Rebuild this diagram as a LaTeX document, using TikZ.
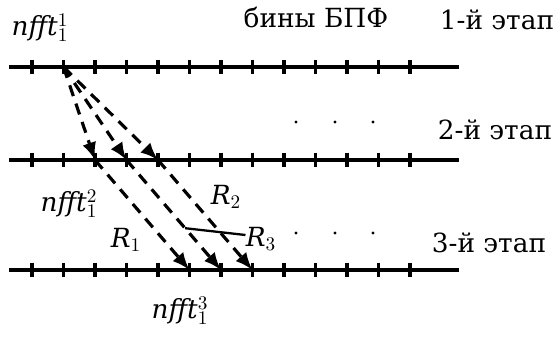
\documentclass[tikz,border=0pt]{standalone}
\usepackage{fontspec}
\setmainfont{DejaVu Serif}
\usetikzlibrary{arrows.meta}

\begin{document}
\begin{tikzpicture}[
    x=0.02cm, y=-0.02cm,
    axis/.style={line width=1.9pt},
    tick/.style={line width=2pt},
    jump/.style={-{Latex[length=10pt,width=8pt]}, line width=1.8pt, dash pattern=on 6.5pt off 4.5pt},
    lbl/.style={font=\fontsize{15}{17}\selectfont, inner sep=0pt},
    dotmark/.style={circle, fill, inner sep=0pt, minimum size=1.8pt}
]
    \useasboundingbox (0,0) rectangle (556,338);

    % Stage axes with ticks (bins)
    \foreach \row/\y/\w in {a/67/1.9pt, b/160/2.4pt, c/270/1.9pt} {
        \coordinate (\row-start) at (9,\y);
        \coordinate (\row-end) at (459,\y);
        \draw[axis, line width=\w] (\row-start) -- (\row-end);
        \foreach \k in {0,...,12} {
            \coordinate (\row-\k) at ({32+31.5*\k},\y);
            \draw[tick] ([yshift=0.15cm]\row-\k) -- ([yshift=-0.15cm]\row-\k);
        }
    }

    % Headings
    \node[lbl] (bins) at (316,17) {бины БПФ};
    \node[lbl] (stage1) at (497,20) {1-й этап};
    \node[lbl] (stage2) at (495,130) {2-й этап};
    \node[lbl] (stage3) at (489,243) {3-й этап};

    % Dots between the stages
    \foreach \x [count=\i] in {296,335,373} {
        \node[dotmark] (dotb-\i) at (\x,122) {};
        \node[dotmark] (dotc-\i) at (\x,233) {};
    }

    % Stage 1 -> stage 2
    \draw[jump] (a-1) -- (b-2);
    \draw[jump] (a-1) -- (b-3);
    \draw[jump] (a-1) -- (b-4);

    % Stage 2 -> stage 3
    \draw[jump] (b-2) -- (c-5);
    \draw[jump] (b-3) -- (c-6);
    \draw[jump] (b-4) -- (c-7);

    % Labels
    \node[lbl] (nfft1) at (40,28) {\textit{nfft}$_1^1$};
    \node[lbl] (nfft2) at (69,204) {\textit{nfft}$_1^2$};
    \node[lbl] (nfft3) at (180,311) {\textit{nfft}$_1^3$};
    \node[lbl] (R1) at (126,240) {\textit{R}$_1$};
    \node[lbl] (R2) at (226,197) {\textit{R}$_2$};
    \node[lbl] (R3) at (261,239) {\textit{R}$_3$};

    % Leader to R3
    \path (b-3) -- (c-6) coordinate[pos=0.62] (rlink);
    \draw[line width=1.3pt] (rlink) -- ([yshift=0.08cm]R3.west);
\end{tikzpicture}
\end{document}
